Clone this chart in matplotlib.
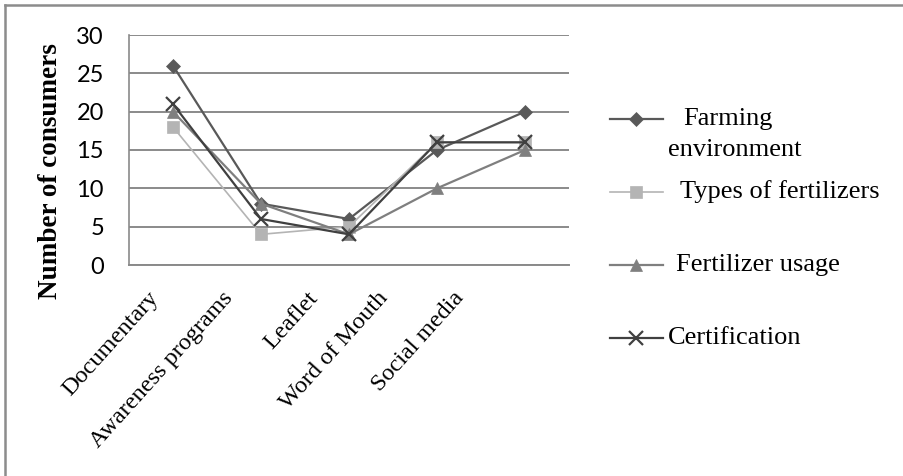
import numpy as np
import matplotlib.pyplot as plt
from matplotlib.lines import Line2D
from matplotlib.transforms import ScaledTranslation

categories = ['Documentary', 'Awareness programs', 'Leaflet', 'Word of Mouth', 'Social media']
farming = [26, 8, 6, 15, 20]
types_fert = [18, 4, 5, 16, 16]
usage = [20, 8, 4, 10, 15]
certification = [21, 6, 4, 16, 16]

series = [
    ('Farming\nenvironment', farming, '#595959', 'D', 7, 1.6),
    ('Types of fertilizers', types_fert, '#b4b4b4', 's', 8, 1.2),
    ('Fertilizer usage', usage, '#7f7f7f', '^', 8.5, 1.6),
    ('Certification', certification, '#404040', 'x', 9.5, 1.6),
]

# extra horizontal nudge (px) of each rotated category label, as in the original
label_nudge = [-1, -14, -17, -35, -47]

W, H = 904, 476
fig = plt.figure(figsize=(W / 100, H / 100), dpi=100)
ax = fig.add_axes([129 / W, 1 - 265 / H, 440 / W, 230 / H])

x = np.arange(len(categories))
for label, vals, color, marker, ms, lw in series:
    ax.plot(x, vals, color=color, lw=lw, marker=marker, ms=ms,
            markeredgewidth=1.6 if marker == 'x' else 0.5, mec=color, mfc=color,
            zorder=3)

ax.set_xlim(-0.5, len(categories) - 0.5)
ax.set_ylim(0, 30)
ax.set_yticks(np.arange(0, 31, 5))
ax.yaxis.grid(True, color='#8a8a8a', lw=1.4)
ax.set_axisbelow(True)
for s in ['top', 'right']:
    ax.spines[s].set_visible(False)
ax.spines['left'].set_color('#8a8a8a')
ax.spines['bottom'].set_color('#8a8a8a')
ax.spines['left'].set_linewidth(1.2)
ax.spines['bottom'].set_linewidth(1.4)
ax.tick_params(axis='both', length=0)
ax.tick_params(axis='y', pad=18)
ax.set_yticklabels([str(v) for v in range(0, 31, 5)], family='Lato', fontsize=17)
ax.set_xticks(x)
ax.set_xticklabels(categories, rotation=48, ha='right', rotation_mode='anchor',
                   family='Liberation Serif', fontsize=17.5)
ax.tick_params(axis='x', pad=6)
for t, dx in zip(ax.get_xticklabels(), label_nudge):
    shift = ScaledTranslation((-25 + dx) / 100, -14 / 100, fig.dpi_scale_trans)
    t.set_transform(t.get_transform() + shift)
ax.set_ylabel('Number of consumers', family='Liberation Serif', fontweight='bold',
              fontsize=19.5)
ax.yaxis.set_label_coords(-0.15, 0.41)

# legend drawn by hand to match spacing
for i, (label, vals, color, marker, ms, lw) in enumerate(series):
    yy = 1 - (119 + 73 * i) / H
    fig.add_artist(Line2D([610 / W, 663 / W], [yy, yy], color=color, lw=lw,
                          transform=fig.transFigure))
    fig.add_artist(Line2D([636.5 / W], [yy], color=color, marker=marker, ms=ms,
                          mec=color, mfc=color,
                          markeredgewidth=1.6 if marker == 'x' else 0.5,
                          transform=fig.transFigure))
    if '\n' in label:
        fig.text(683 / W, yy, 'Farming', family='Liberation Serif', fontsize=19,
                 va='center', ha='left')
        fig.text(668 / W, yy - 31 / H, 'environment', family='Liberation Serif',
                 fontsize=19, va='center', ha='left')
    else:
        xt = {1: 680, 2: 676, 3: 668}[i]
        fig.text(xt / W, yy, label, family='Liberation Serif', fontsize=19,
                 va='center', ha='left')

# outer frame (top and left edges visible)
fig.add_artist(Line2D([5 / W, 1], [1 - 5 / H, 1 - 5 / H], color='#8c8c8c', lw=1.8,
                      transform=fig.transFigure))
fig.add_artist(Line2D([5 / W, 5 / W], [0, 1 - 5 / H], color='#8c8c8c', lw=1.8,
                      transform=fig.transFigure))

fig.savefig('out.png', dpi=100)
